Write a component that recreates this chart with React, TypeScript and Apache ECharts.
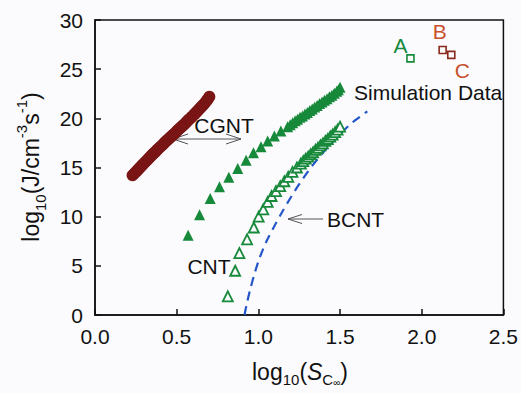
import React, { useEffect, useRef } from "react";
import * as echarts from "echarts";

const FONT = "'Liberation Sans', Arial, sans-serif";

const xTicks = [0, 0.5, 1.0, 1.5, 2.0, 2.5];
const yTicks = [0, 5, 10, 15, 20, 25, 30];

// CGNT (dark red dense circles)
const cgntX = [0.23, 0.24, 0.25, 0.26, 0.27, 0.28, 0.29, 0.30, 0.31, 0.32, 0.33, 0.34, 0.35, 0.36, 0.37, 0.38, 0.39, 0.40, 0.41, 0.42, 0.43, 0.44, 0.45, 0.46, 0.47, 0.48, 0.49, 0.50, 0.51, 0.52, 0.53, 0.54, 0.55, 0.56, 0.57, 0.58, 0.59, 0.60, 0.61, 0.62, 0.63, 0.64, 0.65, 0.66, 0.67, 0.68, 0.69, 0.70];
const cgntY = [14.2, 14.38, 14.55, 14.72, 14.9, 15.07, 15.25, 15.42, 15.6, 15.77, 15.95, 16.12, 16.3, 16.45, 16.6, 16.78, 16.95, 17.1, 17.25, 17.42, 17.6, 17.75, 17.9, 18.05, 18.2, 18.35, 18.5, 18.68, 18.85, 19.0, 19.15, 19.3, 19.45, 19.62, 19.8, 19.95, 20.1, 20.28, 20.45, 20.62, 20.8, 20.98, 21.15, 21.32, 21.5, 21.72, 21.95, 22.2];

// filled green triangles
const filledX = [0.57, 0.64, 0.705, 0.762, 0.819, 0.874, 0.925, 0.97, 1.016, 1.057, 1.098, 1.138, 1.179, 1.195, 1.21, 1.225, 1.24, 1.255, 1.27, 1.285, 1.30, 1.315, 1.33, 1.345, 1.36, 1.375, 1.39, 1.405, 1.42, 1.435, 1.45, 1.465, 1.48, 1.49, 1.50];
const filledY = [8.1, 10.2, 11.85, 13.05, 14.0, 14.9, 15.75, 16.5, 17.1, 17.7, 18.2, 18.7, 19.15, 19.35, 19.55, 19.75, 19.9, 20.1, 20.25, 20.45, 20.6, 20.8, 20.95, 21.15, 21.3, 21.5, 21.65, 21.85, 22.0, 22.2, 22.35, 22.55, 22.75, 22.9, 23.15];

// open green triangles (CNT)
const openX = [0.813, 0.858, 0.884, 0.931, 0.972, 1.002, 1.03, 1.057, 1.081, 1.108, 1.134, 1.159, 1.183, 1.209, 1.236, 1.26, 1.275, 1.29, 1.305, 1.32, 1.335, 1.35, 1.365, 1.38, 1.395, 1.41, 1.425, 1.44, 1.455, 1.47, 1.485, 1.50];
const openY = [1.9, 4.5, 6.3, 7.7, 8.9, 10.0, 10.75, 11.5, 12.1, 12.6, 13.1, 13.6, 14.05, 14.55, 15.0, 15.4, 15.65, 15.9, 16.1, 16.35, 16.55, 16.8, 17.0, 17.25, 17.45, 17.7, 17.9, 18.15, 18.35, 18.6, 18.85, 19.15];

// BCNT dashed blue curve
const bcntX = [0.915, 0.93, 0.95, 0.98, 1.01, 1.05, 1.10, 1.15, 1.20, 1.25, 1.30, 1.35, 1.40, 1.45, 1.50, 1.55, 1.60, 1.667];
const bcntY = [0, 1.2, 2.6, 4.4, 5.9, 7.5, 9.1, 10.6, 12.0, 13.3, 14.5, 15.6, 16.6, 17.5, 18.4, 19.2, 19.9, 20.7];

// Simulation data
const simALabel = ["A"];
const simAX = [1.931];
const simAY = [26.1];
const simBCLabels = ["B", "C"];
const simBCX = [2.128, 2.181];
const simBCY = [26.95, 26.45];

const zip = (xs: number[], ys: number[]) => xs.map((x, i) => [x, ys[i]]);

export default function App() {
  const ref = useRef<HTMLDivElement>(null);
  useEffect(() => {
    if (!ref.current) return;
    const chart = echarts.init(ref.current, undefined, { renderer: "svg" });
    const green = "#17893a";
    const bg = "#fbfbfd";
    const lab = { fontFamily: FONT, fontSize: 21, color: "#111" };
    const option: any = {
      animation: false,
      backgroundColor: bg,
      textStyle: { fontFamily: FONT },
      grid: { left: 95, right: 16, top: 20, bottom: 78, show: true, borderColor: "#111", borderWidth: 1.5 },
      xAxis: {
        type: "value", min: xTicks[0], max: xTicks[xTicks.length - 1], interval: 0.5,
        axisLine: { show: true, onZero: false, lineStyle: { color: "#111", width: 1.5 } },
        axisTick: { show: true, inside: true, length: 6, lineStyle: { color: "#111", width: 1.5 } },
        splitLine: { show: false },
        axisLabel: { ...lab, margin: 11, formatter: (v: number) => v.toFixed(1) },
      },
      yAxis: {
        type: "value", min: yTicks[0], max: yTicks[yTicks.length - 1], interval: 5,
        axisLine: { show: true, onZero: false, lineStyle: { color: "#111", width: 1.5 } },
        axisTick: { show: true, inside: true, length: 6, lineStyle: { color: "#111", width: 1.5 } },
        splitLine: { show: false },
        axisLabel: { ...lab, margin: 12 },
      },
      series: [
        {
          type: "line", data: zip(bcntX, bcntY), showSymbol: false, smooth: 0.3,
          lineStyle: { color: "#2456c8", width: 2.2, type: [9, 6] }, z: 1,
        },
        {
          type: "scatter", data: zip(cgntX, cgntY), symbol: "circle", symbolSize: 12,
          itemStyle: { color: "#7a1515", opacity: 1 }, z: 2,
        },
        {
          type: "scatter", data: zip(filledX, filledY), symbol: "triangle", symbolSize: 11,
          itemStyle: { color: green, opacity: 1 }, z: 2,
        },
        {
          type: "scatter", data: zip(openX, openY), symbol: "triangle", symbolSize: 10,
          itemStyle: { color: bg, borderColor: green, borderWidth: 1.8, opacity: 1 }, z: 3,
        },
        {
          type: "scatter", symbol: "rect", symbolSize: 7,
          data: simAX.map((x, i) => ({ value: [x, simAY[i]], name: simALabel[i] })),
          itemStyle: { color: bg, borderColor: green, borderWidth: 1.6, opacity: 1 },
          label: { show: true, formatter: "{b}", position: "inside", offset: [-10, -13], fontFamily: FONT, fontSize: 21, color: green },
        },
        {
          type: "scatter", symbol: "rect", symbolSize: 7,
          data: simBCX.map((x, i) => ({
            value: [x, simBCY[i]], name: simBCLabels[i],
            label: { offset: i === 0 ? [-3, -18] : [11, 16] },
          })),
          itemStyle: { color: bg, borderColor: "#8a2a1c", borderWidth: 1.6, opacity: 1 },
          label: { show: true, formatter: "{b}", position: "inside", fontFamily: FONT, fontSize: 21, color: "#c8502e" },
        },
      ],
      graphic: [
        // y axis title
        {
          type: "text", x: 31, y: 167, rotation: Math.PI / 2,
          style: {
            text: "{n|log}{sub|10}{n|(J/cm}{sup|-3}{n|s}{sup|-1}{n|)}",
            align: "center", verticalAlign: "middle", fill: "#111",
            rich: {
              n: { fontFamily: FONT, fontSize: 23, lineHeight: 34, verticalAlign: "middle", fill: "#111" },
              sub: { fontFamily: FONT, fontSize: 15, lineHeight: 15, verticalAlign: "bottom", fill: "#111" },
              sup: { fontFamily: FONT, fontSize: 15, lineHeight: 15, verticalAlign: "top", fill: "#111" },
            },
          },
        },
        // x axis title
        {
          type: "text", x: 300, y: 372,
          style: {
            text: "{n|log}{sub|10}{n|(}{it|S}{sub|C}{sub2|∞}{n|)}",
            align: "center", verticalAlign: "middle", fill: "#111",
            rich: {
              n: { fontFamily: FONT, fontSize: 23, lineHeight: 30, verticalAlign: "middle", fill: "#111" },
              it: { fontFamily: FONT, fontSize: 23, fontStyle: "italic", lineHeight: 30, verticalAlign: "middle", fill: "#111" },
              sub: { fontFamily: FONT, fontSize: 15, lineHeight: 15, verticalAlign: "bottom", fill: "#111" },
              sub2: { fontFamily: FONT, fontSize: 10, lineHeight: 5, verticalAlign: "bottom", fill: "#111" },
            },
          },
        },
        { type: "text", x: 224, y: 125, style: { text: "CGNT", align: "center", verticalAlign: "middle", fontFamily: FONT, fontSize: 21, fill: "#111" } },
        { type: "line", shape: { x1: 173, y1: 139, x2: 241, y2: 139 }, style: { stroke: "#555", lineWidth: 1 } },
        { type: "polyline", shape: { points: [[188, 134], [173, 139], [188, 144]] }, style: { stroke: "#555", lineWidth: 1, fill: null } },
        { type: "polyline", shape: { points: [[226, 134], [241, 139], [226, 144]] }, style: { stroke: "#555", lineWidth: 1, fill: null } },
        { type: "line", shape: { x1: 288, y1: 219, x2: 323, y2: 219 }, style: { stroke: "#555", lineWidth: 1 } },
        { type: "polyline", shape: { points: [[302, 214.5], [288, 219], [302, 223.5]] }, style: { stroke: "#555", lineWidth: 1, fill: null } },
        { type: "text", x: 327, y: 219, style: { text: "BCNT", align: "left", verticalAlign: "middle", fontFamily: FONT, fontSize: 21, fill: "#111" } },
        { type: "text", x: 209, y: 266, style: { text: "CNT", align: "center", verticalAlign: "middle", fontFamily: FONT, fontSize: 21, fill: "#111" } },
        { type: "text", x: 354, y: 92, style: { text: "Simulation Data", align: "left", verticalAlign: "middle", fontFamily: FONT, fontSize: 21, fill: "#111" } },
      ],
    };
    chart.setOption(option);
    return () => chart.dispose();
  }, []);
  return <div ref={ref} style={{ position: "absolute", left: 0, top: 0, width: 521, height: 393 }} />;
}
